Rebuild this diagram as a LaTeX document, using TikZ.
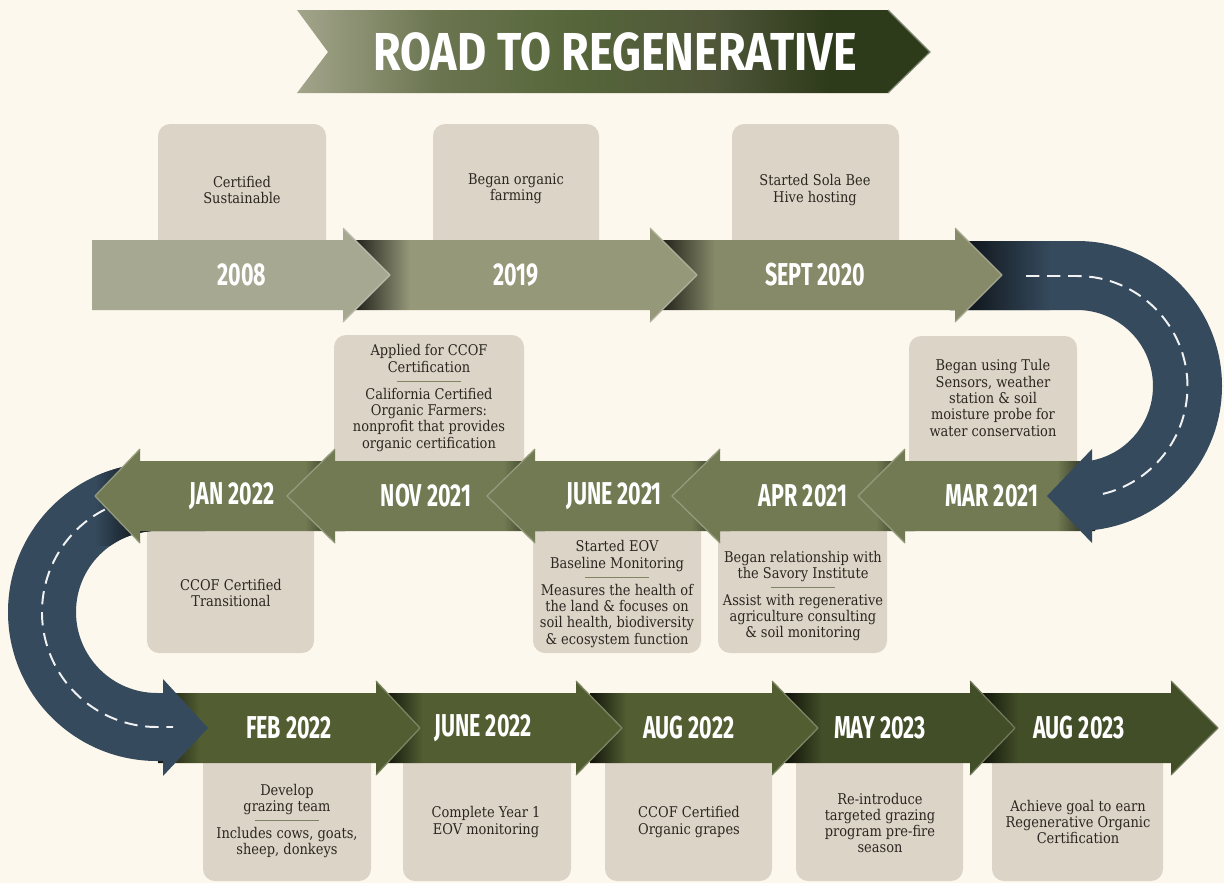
\documentclass[tikz,border=0pt]{standalone}
\usepackage{fontspec}
\setmainfont{DejaVu Serif}
\newfontfamily\notefont[FakeStretch=0.88]{DejaVu Serif}
\newfontfamily\datefont[FakeStretch=0.68]{Fira Sans}
\newfontfamily\titlefont[FakeStretch=0.84]{Fira Sans}

\definecolor{paper}{HTML}{FDF8ED}
\definecolor{cardfill}{HTML}{DCD4C7}
\definecolor{ink}{HTML}{2B2620}
\definecolor{road}{HTML}{354A5D}
\definecolor{sage1}{HTML}{A6A892}
\definecolor{sage2}{HTML}{96987A}
\definecolor{sage3}{HTML}{878A69}
\definecolor{moss}{HTML}{717A52}
\definecolor{fern}{HTML}{525E32}
\definecolor{fernd}{HTML}{424E27}
\definecolor{divline}{HTML}{7F8462}
\definecolor{ban1}{HTML}{A3A58B}
\definecolor{ban2}{HTML}{6B7550}
\definecolor{ban3}{HTML}{56663A}
\definecolor{ban4}{HTML}{4F5639}
\definecolor{ban5}{HTML}{2E3B1B}
\colorlet{arrbase}{sage1}

% shadow where an arrow slides out from under the previous head
\pgfdeclarehorizontalshading[arrbase]{shadowleft}{100bp}{color(0bp)=(arrbase!22!black); color(25bp)=(arrbase!22!black); color(33bp)=(arrbase); color(100bp)=(arrbase)}
\pgfdeclarehorizontalshading[arrbase]{shadowright}{100bp}{color(0bp)=(arrbase); color(67bp)=(arrbase); color(75bp)=(arrbase!22!black); color(100bp)=(arrbase!22!black)}
\pgfdeclarehorizontalshading{bannerfade}{100bp}{color(0bp)=(ban1); color(25bp)=(ban1); color(36bp)=(ban2); color(47bp)=(ban3); color(58bp)=(ban4); color(67bp)=(ban5); color(100bp)=(ban5)}

% #1 colour, #2 tail x, #3 head base x, #4 tip x, #5 centre y, #6 fill style
\newcommand{\tlarrow}[6]{%
  \colorlet{arrbase}{#1}%
  \path[#6] (#2,#5+35) -- (#3,#5+35) -- (#3,#5+47) -- (#4,#5) -- (#3,#5-47) -- (#3,#5-35) -- (#2,#5-35) -- cycle;%
  \draw[headedge] (#3,#5+47) -- (#4,#5) -- (#3,#5-47);}

\newcommand{\divider}{\textcolor{divline}{\rule[2.5pt]{1.6cm}{0.9pt}}}

% the two bends of the road
\def\eastbend{(950,-241) -- (1077,-241) arc[start angle=90, end angle=-84, radius=145] -- (1092,-543) -- (1047,-496) -- (1092,-449) -- (1092,-460.5) arc[start angle=-78.6, end angle=90, radius=76] -- (950,-310) -- cycle}
\def\westbend{(205,-463) -- (157,-463) arc[start angle=90, end angle=270, radius=149] -- (163,-761) -- (163,-776) -- (208,-728) -- (163,-679) -- (163,-693) -- (157,-693) arc[start angle=270, end angle=90, radius=81] -- (205,-531) -- cycle}

\begin{document}
\begin{tikzpicture}[x=0.025cm,y=0.025cm,
    card/.style={fill=cardfill,rounded corners=0.3cm},
    note/.style={align=center,inner sep=0pt,text=ink,font=\notefont\fontsize{10.5}{11.6}\selectfont},
    date/.style={inner sep=0pt,text=white,font=\datefont\bfseries\fontsize{22.5}{26}\selectfont},
    headedge/.style={draw=arrbase!75!white,line width=0.9pt,line join=round},
    lane/.style={draw=white!92!road,line width=1.4pt,dash pattern=on 9.5pt off 5.5pt}]
  \useasboundingbox (0,0) rectangle (1224,-883);
  \fill[paper] (0,0) rectangle (1224,-883);

  % title ribbon
  \shade[shading=bannerfade] (297,-10) -- (888,-10) -- (930,-52) -- (888,-93) -- (297,-93) -- (328,-52) -- cycle;
  \draw[ban5!60!white,line width=0.8pt] (888,-10) -- (930,-52) -- (888,-93);
  \node[inner sep=0pt,text=white,font=\titlefont\bfseries\fontsize{38}{40}\selectfont] (title) at (615,-52) {ROAD TO REGENERATIVE};

  % cards behind the arrows
  \foreach \xa/\ya/\xb/\yb in {158/-124/326/-262, 433/-124/599/-262, 732/-124/899/-262,
      334/-335/524/-480, 909/-336/1077/-480, 147/-515/314/-653, 533/-515/701/-653,
      718/-515/887/-653, 203/-745/371/-881, 403/-745/571/-881, 605/-745/772/-881,
      796/-745/963/-881, 992/-745/1163/-881}
    \fill[card] (\xa,\ya) rectangle (\xb,\yb);

  % bottom row
  \tlarrow{fernd}{980}{1171}{1218}{-728}{shade,shading=shadowleft}
  \tlarrow{fernd}{785}{970}{1015}{-728}{shade,shading=shadowleft}
  \tlarrow{fern}{590}{772}{818}{-728}{shade,shading=shadowleft}
  \tlarrow{fern}{385}{576}{622}{-728}{shade,shading=shadowleft}
  \tlarrow{fern}{158}{376}{420}{-728}{shade,shading=shadowleft}

  % west bend
  \fill[road] \westbend;
  \begin{scope}
    \clip \westbend;
    \shade[left color=road,right color=road!15!black] (95,-455) rectangle (150,-545);
  \end{scope}
  \draw[lane] ([shift={(117:115)}]157,-612) arc[start angle=117, end angle=270, radius=115] -- (173,-727);

  % middle row, running left
  \tlarrow{moss}{345}{140}{95}{-496}{shade,shading=shadowright}
  \tlarrow{moss}{545}{335}{287}{-496}{shade,shading=shadowright}
  \tlarrow{moss}{730}{535}{487}{-496}{shade,shading=shadowright}
  \tlarrow{moss}{915}{720}{672}{-496}{shade,shading=shadowright}
  \tlarrow{moss}{1095}{905}{858}{-496}{shade,shading=shadowright}

  % east bend
  \fill[road] \eastbend;
  \begin{scope}
    \clip \eastbend;
    \shade[left color=road!15!black,right color=road] (950,-235) rectangle (1050,-315);
  \end{scope}
  \draw[lane] (1026,-276) -- (1077,-276) arc[start angle=90, end angle=-77, radius=110.5];

  % top row
  \tlarrow{sage3}{660}{955}{1002}{-275}{shade,shading=shadowleft}
  \tlarrow{sage2}{355}{650}{697}{-275}{shade,shading=shadowleft}
  \tlarrow{sage1}{92}{343}{390}{-275}{fill=arrbase}

  % dates
  \node[date] (d2008) at (242,-275) {2008};
  \node[date] (d2019) at (516,-275) {2019};
  \node[date] (dsep20) at (815,-275) {SEPT 2020};
  \node[date] (dmar21) at (992,-496) {MAR 2021};
  \node[date] (dapr21) at (803,-496) {APR 2021};
  \node[date] (djun21) at (614,-496) {JUNE 2021};
  \node[date] (dnov21) at (426,-496) {NOV 2021};
  \node[date] (djan22) at (232,-496) {JAN 2022};
  \node[date] (dfeb22) at (289,-728) {FEB 2022};
  \node[date] (djun22) at (483,-728) {JUNE 2022};
  \node[date] (daug22) at (689,-728) {AUG 2022};
  \node[date] (dmay23) at (880,-728) {MAY 2023};
  \node[date] (daug23) at (1079,-728) {AUG 2023};

  % card texts
  \node[note] (n2008) at (242,-190) {Certified\\Sustainable};
  \node[note] (n2019) at (516,-189) {Began organic\\farming};
  \node[note] (nsep20) at (815,-190) {Started Sola Bee\\Hive hosting};
  \node[note] (nnov21) at (429,-398) {Applied for CCOF\\Certification\\[-2pt]\divider\\[-2pt]California Certified\\Organic Farmers:\\nonprofit that provides\\organic certification};
  \node[note] (nmar21) at (993,-398) {Began using Tule\\Sensors, weather\\station \& soil\\moisture probe for\\water conservation};
  \node[note] (njan22) at (231,-593) {CCOF Certified\\Transitional};
  \node[note] (njun21) at (617,-594) {Started EOV\\Baseline Monitoring\\[-2pt]\divider\\[-2pt]Measures the health of\\the land \& focuses on\\soil health, biodiversity\\\& ecosystem function};
  \node[note] (napr21) at (803,-596) {Began relationship with\\the Savory Institute\\[-2pt]\divider\\[-2pt]Assist with regenerative\\agriculture consulting\\\& soil monitoring};
  \node[note] (nfeb22) at (287,-821) {Develop\\grazing team\\[-2pt]\divider\\[-2pt]Includes cows, goats,\\sheep, donkeys};
  \node[note] (njun22) at (486,-822) {Complete Year 1\\EOV monitoring};
  \node[note] (naug22) at (689,-822) {CCOF Certified\\Organic grapes};
  \node[note] (nmay23) at (880,-823) {Re-introduce\\targeted grazing\\program pre-fire\\season};
  \node[note] (naug23) at (1078,-822) {Achieve goal to earn\\Regenerative Organic\\Certification};
\end{tikzpicture}
\end{document}
